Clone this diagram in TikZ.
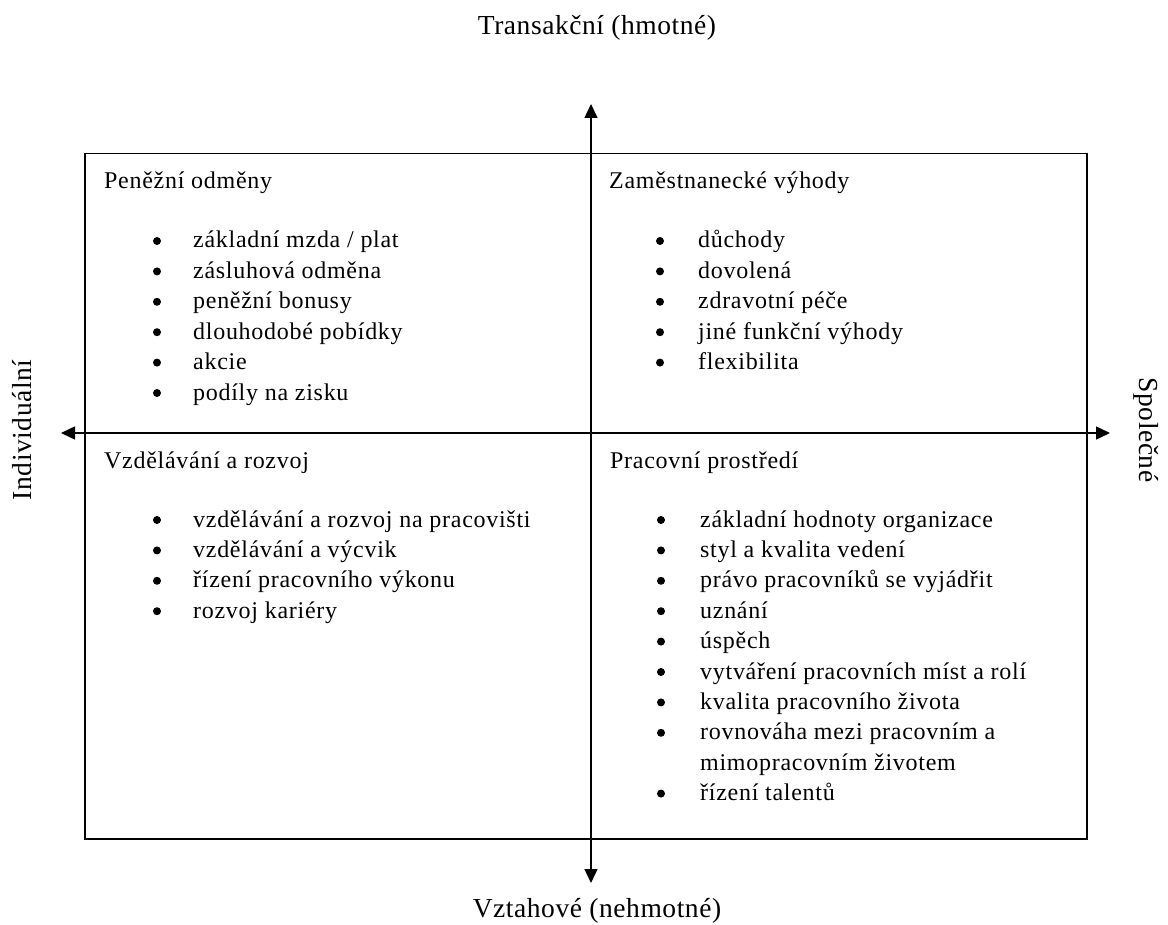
\documentclass[tikz,border=0pt]{standalone}
\usepackage{fontspec}
\setmainfont{Liberation Serif}[LetterSpace=3]
\usetikzlibrary{arrows.meta}
\tikzset{
  axis/.style={line width=1.5pt, {Triangle[length=14pt,width=13pt]}-{Triangle[length=14pt,width=13pt]}},
  frame/.style={draw, line width=1.5pt, inner sep=0pt, anchor=north west},
  lbl/.style={inner sep=0pt, font=\fontsize{27.5}{30}\selectfont\addfontfeature{LetterSpace=2}},
  head/.style={inner sep=0pt, anchor=base west, font=\fontsize{24}{28}\selectfont},
  item/.style={inner sep=0pt, anchor=base west, font=\fontsize{24}{28}\selectfont},
  bul/.style={circle, fill, inner sep=0pt, minimum size=8pt},
}
\begin{document}
\begin{tikzpicture}[x=1pt,y=-1pt]
\useasboundingbox (0,0) rectangle (1168,925);
\node[frame, minimum width=1002pt, minimum height=685pt] (box) at (84,153) {};
\coordinate (ttip) at (591,104);
\coordinate (btip) at (591,883);
\coordinate (ltip) at (61,433);
\coordinate (rtip) at (1110,433);
\draw[axis] (ttip) -- (btip);
\draw[axis] (ltip) -- (rtip);
\node[lbl] (top) at (597,28) {Transakční (hmotné)};
\node[lbl] (bottom) at (597,911) {Vztahové (nehmotné)};
\node[lbl, rotate=90] (left) at (22,430) {Individuální};
\node[lbl, rotate=-90] (right) at (1146,430) {Společné};
% headings
\node[head] (h1) at (104,189) {Peněžní odměny};
\node[head] (h2) at (609,189) {Zaměstnanecké výhody};
\node[head] (h3) at (104,468) {Vzdělávání a rozvoj};
\node[head] (h4) at (610,468) {Pracovní prostředí};
% top-left
\foreach \t [count=\i] in {základní mzda / plat, zásluhová odměna, peněžní bonusy, dlouhodobé pobídky, akcie, podíly na zisku}{
  \node[bul] (b1\i) at (157,241+30.4*\i-30.4) {};
  \node[item] (i1\i) at (193,248+30.4*\i-30.4) {\t};
}
% top-right
\foreach \t [count=\i] in {důchody, dovolená, zdravotní péče, jiné funkční výhody, flexibilita}{
  \node[bul] (b2\i) at (660,241+30.4*\i-30.4) {};
  \node[item] (i2\i) at (698,248+30.4*\i-30.4) {\t};
}
% bottom-left
\foreach \t [count=\i] in {vzdělávání a rozvoj na pracovišti, vzdělávání a výcvik, řízení pracovního výkonu, rozvoj kariéry}{
  \node[bul] (b3\i) at (157,520+30.4*\i-30.4) {};
  \node[item] (i3\i) at (193,527+30.4*\i-30.4) {\t};
}
% bottom-right
\foreach \t [count=\i] in {základní hodnoty organizace, styl a kvalita vedení, právo pracovníků se vyjádřit, uznání, úspěch, vytváření pracovních míst a rolí, kvalita pracovního života, rovnováha mezi pracovním a}{
  \node[bul] (b4\i) at (661,520+30.4*\i-30.4) {};
  \node[item] (i4\i) at (700,527+30.4*\i-30.4) {\t};
}
\node[item] (i49) at (700,770.2) {mimopracovním životem};
\node[bul] (b410) at (661,793.6) {};
\node[item] (i410) at (700,800.6) {řízení talentů};
\end{tikzpicture}
\end{document}
